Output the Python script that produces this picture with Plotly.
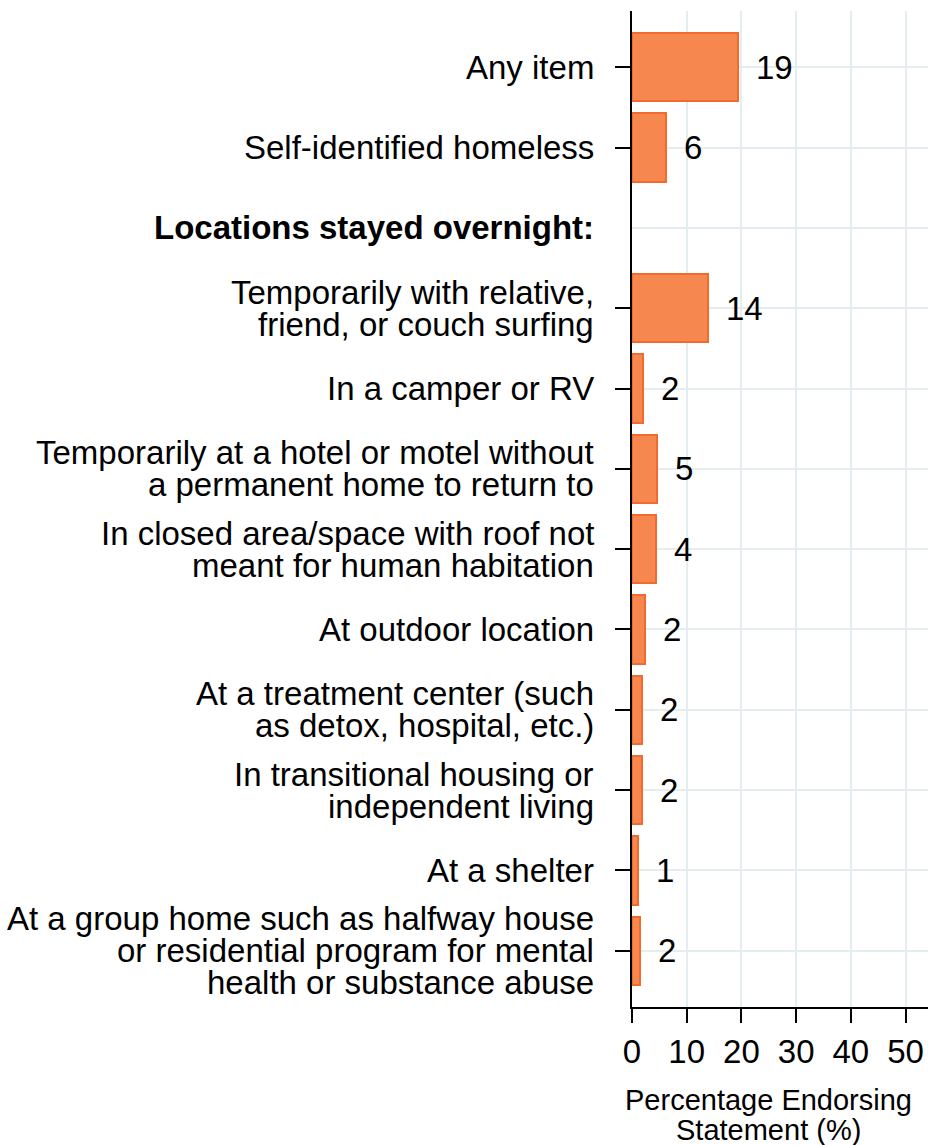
import plotly.graph_objects as go

categories = [
    "Any item",
    "Self-identified homeless",
    "<b>Locations stayed overnight:</b>",
    "Temporarily with relative,<br>friend, or couch surfing",
    "In a camper or RV",
    "Temporarily at a hotel or motel without<br>a permanent home to return to",
    "In closed area/space with roof not<br>meant for human habitation",
    "At outdoor location",
    "At a treatment center (such<br>as detox, hospital, etc.)",
    "In transitional housing or<br>independent living",
    "At a shelter",
    "At a group home such as halfway house<br>or residential program for mental<br>health or substance abuse",
]
values = [19.3, 6.2, None, 13.8, 1.95, 4.6, 4.4, 2.4, 1.8, 1.9, 1.1, 1.5]
value_labels = ["19", "6", "", "14", "2", "5", "4", "2", "2", "2", "1", "2"]
x_ticks = [0, 10, 20, 30, 40, 50]
x_title_lines = ["Percentage Endorsing", "Statement (%)"]

positions = list(range(len(categories)))
header_pos = [i for i, v in enumerate(values) if v is None]
bar_pos = [i for i, v in enumerate(values) if v is not None]

FONT = "Liberation Sans, Arial, sans-serif"
GRID = "#E4EEF0"

fig = go.Figure()
fig.add_trace(go.Bar(
    x=values, y=positions, orientation="h", width=0.85,
    marker=dict(color="#F5874F", line=dict(color="#F26A2C", width=2)),
    hoverinfo="skip", showlegend=False,
))

annotations = []
# category labels (left)
for i, cat in enumerate(categories):
    lines = cat.split("<br>")
    n = len(lines)
    for k, line in enumerate(lines):
        annotations.append(dict(
            x=0, xref="x", y=i, yref="y", text=line, showarrow=False,
            xanchor="right", yanchor="middle", xshift=-36,
            yshift=((n - 1) / 2 - k) * 32,
            font=dict(family=FONT, size=33, color="black"),
        ))
# value labels
for i, (v, lab) in enumerate(zip(values, value_labels)):
    if v is None:
        continue
    annotations.append(dict(
        x=v, xref="x", y=i, yref="y", text=lab, showarrow=False,
        xanchor="left", yanchor="middle", xshift=16,
        font=dict(family=FONT, size=33, color="black"),
    ))
# axis title
for k, line in enumerate(x_title_lines):
    annotations.append(dict(
        x=25, xref="x", y=0, yref="paper", text=line, showarrow=False,
        xanchor="center", yanchor="middle", yshift=-93 - 30 * k,
        font=dict(family=FONT, size=29, color="black"),
    ))

fig.update_layout(
    width=928, height=1145,
    margin=dict(l=632, r=0, t=11, b=138),
    paper_bgcolor="white", plot_bgcolor="white",
    font=dict(family=FONT, color="black"),
    annotations=annotations,
    bargap=0,
)
fig.update_xaxes(
    range=[0, 54.1], tickvals=x_ticks, ticks="outside", ticklen=14, tickwidth=2,
    tickcolor="black", showline=True, linecolor="black", linewidth=2,
    showgrid=True, gridcolor=GRID, gridwidth=2, zeroline=False,
    tickfont=dict(family=FONT, size=33, color="black"),
)
fig.update_yaxes(
    range=[11.7, -0.7], tickvals=bar_pos, showticklabels=False,
    ticks="outside", ticklen=15, tickwidth=2, tickcolor="black",
    showline=True, linecolor="black", linewidth=2,
    showgrid=True, gridcolor=GRID, gridwidth=2, zeroline=False,
    minor=dict(tickvals=header_pos, ticks="", showgrid=True, gridcolor=GRID, gridwidth=2),
)

fig.write_html(
    "out.html",
    config={"displayModeBar": False},
    post_script="document.body.style.margin='0';document.body.style.overflow='hidden';",
)
